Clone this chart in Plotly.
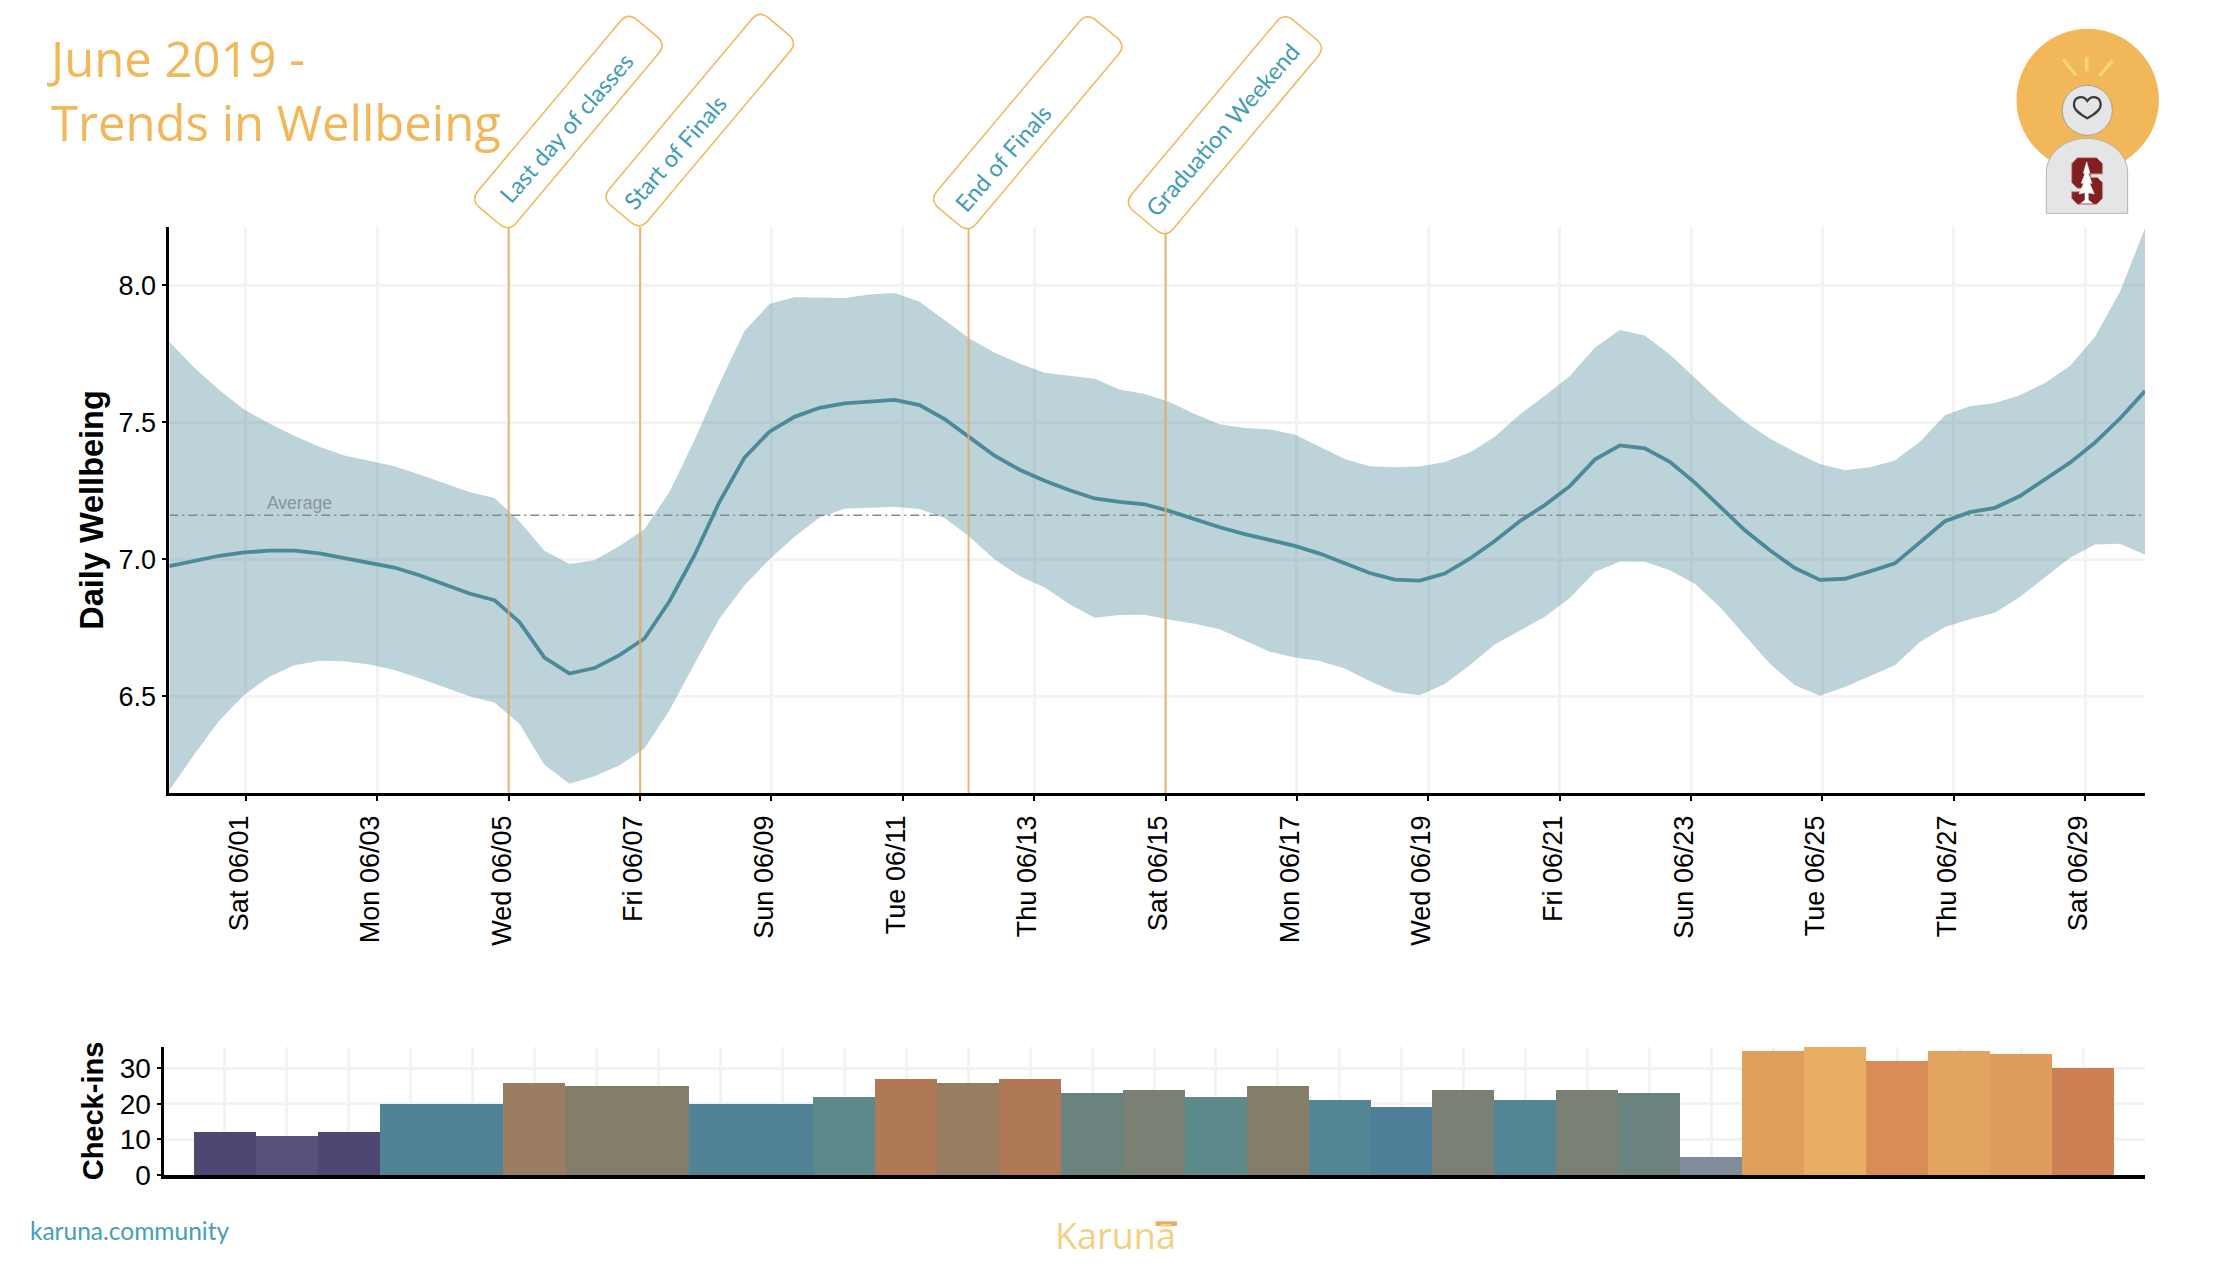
import math
import pandas as pd
import plotly.graph_objects as go

W, H = 2230, 1268

# ---------- data ----------
upper = [7.794,7.699,7.618,7.546,7.496,7.451,7.411,7.379,7.360,7.340,
         7.310,7.277,7.246,7.224,7.139,7.031,6.983,6.997,7.049,7.110,
         7.246,7.435,7.642,7.833,7.932,7.957,7.955,7.954,7.967,7.972,
         7.940,7.873,7.806,7.754,7.715,7.681,7.671,7.659,7.620,7.603,
         7.574,7.530,7.493,7.479,7.474,7.456,7.411,7.366,7.340,7.336,
         7.339,7.355,7.390,7.447,7.529,7.597,7.669,7.772,7.837,7.817,
         7.748,7.664,7.577,7.502,7.441,7.392,7.348,7.325,7.336,7.361,
         7.429,7.526,7.559,7.571,7.599,7.644,7.706,7.812,7.977,8.208]
mean = [6.975,6.994,7.013,7.025,7.032,7.032,7.022,7.004,6.988,6.970,
        6.942,6.909,6.875,6.851,6.771,6.641,6.583,6.603,6.650,6.711,
        6.847,7.015,7.210,7.371,7.466,7.520,7.553,7.569,7.576,7.582,
        7.563,7.512,7.445,7.378,7.327,7.287,7.252,7.222,7.210,7.201,
        7.176,7.146,7.117,7.092,7.070,7.049,7.021,6.985,6.950,6.926,
        6.922,6.948,7.002,7.067,7.139,7.198,7.267,7.364,7.416,7.405,
        7.356,7.280,7.195,7.106,7.033,6.968,6.925,6.929,6.956,6.985,
        7.062,7.139,7.172,7.188,7.231,7.291,7.353,7.426,7.514,7.614]
lower = [6.157,6.288,6.412,6.506,6.571,6.613,6.630,6.628,6.616,6.596,
         6.566,6.532,6.500,6.477,6.400,6.250,6.181,6.208,6.248,6.309,
         6.449,6.619,6.784,6.905,7.000,7.082,7.153,7.185,7.189,7.192,
         7.184,7.151,7.082,6.999,6.939,6.897,6.836,6.787,6.797,6.798,
         6.779,6.765,6.745,6.704,6.663,6.642,6.629,6.601,6.556,6.516,
         6.504,6.545,6.613,6.689,6.741,6.790,6.859,6.954,6.992,6.991,
         6.960,6.911,6.826,6.722,6.619,6.540,6.502,6.534,6.574,6.613,
         6.698,6.753,6.781,6.805,6.862,6.935,7.006,7.054,7.057,7.017]
average = 7.161
series_start = "2019-05-30 19:59"
series_end = "2019-06-29 21:50"
dates = pd.date_range(series_start, series_end, periods=len(mean))

checkins = [12,11,12,20,20,26,25,25,20,20,22,27,26,27,23,24,22,25,21,19,24,21,24,23,5,35,36,32,35,34,30]
checkin_dates = pd.date_range("2019-05-31", periods=len(checkins), freq="D")
checkin_colors = ["#4F4673","#57507A","#4F4673","#528395","#528395","#9B7D62","#847D6A","#847D6A",
                  "#528395","#528395","#5C8A8B","#AF7958","#997D63","#AF7958","#6A837E","#7A8073",
                  "#5C8A8B","#847D6A","#538594","#4E7E98","#7A8073","#538594","#7A8073","#6A837E",
                  "#7F8D9B","#E0A05C","#E8AE63","#D88C56","#E2A45E","#DF9C5C","#CD8053"]

events = ["Last day of classes", "Start of Finals", "End of Finals", "Graduation Weekend"]
event_dates = ["2019-06-05", "2019-06-07", "2019-06-12", "2019-06-15"]

# ---------- layout helpers (pixel geometry of the page) ----------
px = lambda v: v / W
py = lambda v: 1 - v / H
ORANGE = "#F2B758"
TEAL = "#3F9DB4"

def path_px(points, close=True):
    s = "M%.5f,%.5f " % (px(points[0][0]), py(points[0][1]))
    s += " ".join("L%.5f,%.5f" % (px(a), py(b)) for a, b in points[1:])
    return s + (" Z" if close else "")

def box_path(length, width, r=12, angle=50):
    """Rounded tag rising from its bottom corner, in pixel offsets (y up)."""
    t = math.radians(angle)
    u = (math.cos(t), math.sin(t))
    v = (-math.sin(t), math.cos(t))
    pt = lambda a, b: (a * u[0] + b * v[0], a * u[1] + b * v[1] - 4)
    segs = [((r, 0), (length - r, 0), (length, 0), (length, r)),
            (None, (length, width - r), (length, width), (length - r, width)),
            (None, (r, width), (0, width), (0, width - r)),
            (None, (0, r), (0, 0), (r, 0))]
    s = "M%.1f,%.1f" % pt(*segs[0][0])
    for _, l, c, e in segs:
        s += " L%.1f,%.1f Q%.1f,%.1f %.1f,%.1f" % (pt(*l) + pt(*c) + pt(*e))
    return s + " Z"

X_L, X_R, Y_T, Y_B = 169.3, 2145, 227, 793
X2_L, Y2_T, Y2_B = 164.3, 1047, 1175

fig = go.Figure()
fig.add_trace(go.Scatter(x=dates, y=upper, mode="lines", line=dict(width=0), hoverinfo="skip", showlegend=False))
fig.add_trace(go.Scatter(x=dates, y=lower, mode="lines", line=dict(width=0), fill="tonexty",
                         fillcolor="rgba(75,137,155,0.378)", hoverinfo="skip", showlegend=False))
fig.add_trace(go.Scatter(x=[dates[0], dates[-1]], y=[average, average], mode="lines",
                         line=dict(color="#7F8C91", width=1.6, dash="9px,4px,2px,4px"), showlegend=False))
fig.add_trace(go.Scatter(x=dates, y=mean, mode="lines", line=dict(color="#4C8A9A", width=3.8), showlegend=False))
fig.add_trace(go.Bar(x=checkin_dates, y=checkins, marker=dict(color=checkin_colors, line=dict(width=0)),
                     xaxis="x2", yaxis="y2", width=86400000, showlegend=False))

grid = "#F3F3F3"
tickfont = dict(family="Liberation Sans", size=27, color="#000000")
fig.update_layout(
    width=W, height=H, margin=dict(l=0, r=0, t=0, b=0, autoexpand=False), autosize=False,
    paper_bgcolor="white", plot_bgcolor="white", showlegend=False, bargap=0,
    xaxis=dict(domain=[px(X_L), px(X_R)], range=[series_start, series_end], type="date",
               tick0="2019-06-01", dtick=2 * 86400000, tickformat="%a %m/%d", tickangle=-90,
               tickfont=tickfont, ticks="outside", ticklen=5, tickwidth=2, tickcolor="black",
               showline=True, linecolor="black", linewidth=2.5, showgrid=True, gridcolor=grid, gridwidth=2.5,
               zeroline=False, anchor="y", ticklabelshift=-7, ticklabelstandoff=4),
    yaxis=dict(domain=[py(Y_B), py(Y_T)], range=[6.147, 8.213], tickvals=[6.5, 7, 7.5, 8],
               tickformat=".1f", tickfont=tickfont, ticks="outside", ticklen=5, tickwidth=2, tickcolor="black",
               showline=True, linecolor="black", linewidth=2.5, showgrid=True, gridcolor=grid, gridwidth=2.5,
               zeroline=False, anchor="x",
               title=dict(text="Daily Wellbeing", font=dict(family="Liberation Sans", size=32.5, color="black", weight=700), standoff=6)),
    xaxis2=dict(domain=[px(X2_L), px(X_R)], range=["2019-05-30 00:29", "2019-07-01 00:00"], type="date",
                tick0="2019-05-31", dtick=86400000, showticklabels=False, ticks="",
                showline=True, linecolor="black", linewidth=3.5, showgrid=True, gridcolor=grid, gridwidth=2.5,
                zeroline=False, anchor="y2"),
    yaxis2=dict(domain=[py(Y2_B), py(Y2_T)], range=[0, 36], tickvals=[0, 10, 20, 30],
                tickfont=dict(family="Liberation Sans", size=28, color="#000000"), ticks="outside", ticklen=5,
                tickwidth=2, tickcolor="black", showline=True, linecolor="black", linewidth=2.5,
                showgrid=True, gridcolor=grid, gridwidth=3, zeroline=False, anchor="x2",
                title=dict(text="Check-ins", font=dict(family="Liberation Sans", size=29, color="black", weight=700), standoff=8)),
)

shapes = []
event_tops = [227, 227, 229, 234]
box_bottoms = [228, 226, 229, 234]
box_sizes = [(245, 50), (245, 50), (245, 51), (249, 54)]
for d, top, bottom, size in zip(event_dates, event_tops, box_bottoms, box_sizes):
    shapes.append(dict(type="line", xref="x", yref="paper", x0=d, x1=d, y0=py(Y_B), y1=py(top),
                       line=dict(color="rgba(234,170,90,0.85)", width=2), layer="above"))
    shapes.append(dict(type="path", xref="x", yref="paper", xsizemode="pixel", ysizemode="pixel",
                       xanchor=d, yanchor=py(bottom), path=box_path(*size),
                       line=dict(color=ORANGE, width=1.5), fillcolor="rgba(255,255,255,0)"))

# ---------- badge in the top right corner ----------
zx = lambda v: 1960 + v / 3
zy = lambda v: v / 3
def circle(cx, cy, r, fill, line=None):
    return dict(type="circle", xref="paper", yref="paper", x0=px(cx - r), x1=px(cx + r), y0=py(cy + r), y1=py(cy - r),
                fillcolor=fill, line=dict(color=line or fill, width=1))
shapes.append(circle(2087.7, 100, 70.7, ORANGE))
for a, b in [((310, 178), (348, 226)), ((380, 170), (380, 214)), ((457, 182), (419, 228))]:
    shapes.append(dict(type="line", xref="paper", yref="paper", x0=px(zx(a[0])), y0=py(zy(a[1])),
                       x1=px(zx(b[0])), y1=py(zy(b[1])), line=dict(color="#F5D27F", width=3.5)))
shapes.append(circle(2087.3, 110.3, 25, "#E4E5E7", "#A9A28F"))
hp = [(382,303),(370,285),(342,288),(342,315),(342,332),(365,345),(382,355),(399,345),(422,332),(422,315),(422,288),(394,285),(382,303)]
hp = [(px(zx(a)), py(zy(b))) for a, b in hp]
heart = "M%.5f,%.5f " % hp[0] + " ".join("C%.5f,%.5f %.5f,%.5f %.5f,%.5f" % (hp[i] + hp[i+1] + hp[i+2]) for i in range(1, 12, 3)) + " Z"
shapes.append(dict(type="path", xref="paper", yref="paper", path=heart, line=dict(color="#3A3A3A", width=2.2)))
ap = [(259,640),(259,520),(259,455),(320,415),(381,415),(442,415),(503,455),(503,520),(503,640)]
ap = [(px(zx(a)), py(zy(b))) for a, b in ap]
arch = ("M%.5f,%.5f L%.5f,%.5f " % (ap[0] + ap[1]) + "C%.5f,%.5f %.5f,%.5f %.5f,%.5f " % (ap[2] + ap[3] + ap[4])
        + "C%.5f,%.5f %.5f,%.5f %.5f,%.5f " % (ap[5] + ap[6] + ap[7]) + "L%.5f,%.5f Z" % ap[8])
shapes.append(dict(type="path", xref="paper", yref="paper", path=arch, fillcolor="#E4E5E7", line=dict(color="#B5B3AB", width=1)))
s_pts = [(352,473),(410,473),(428,491),(428,522),(392,522),(392,532),(412,532),(428,548),(428,595),(410,613),
         (352,613),(335,595),(335,575),(370,575),(370,565),(352,565),(335,548),(335,491)]
shapes.append(dict(type="path", xref="paper", yref="paper", path=path_px([(zx(a), zy(b)) for a, b in s_pts]),
                   fillcolor="#821F1F", line=dict(color="#C99A9A", width=1)))
tree = [(380,485),(390,520),(385,520),(396,550),(389,550),(403,582),(385,578),(385,600),(398,610),(362,610),(375,600),
        (375,578),(357,582),(371,550),(364,550),(375,520),(370,520)]
shapes.append(dict(type="path", xref="paper", yref="paper", path=path_px([(zx(a), zy(b)) for a, b in tree]),
                   fillcolor="white", line=dict(color="white", width=0.5)))
shapes.append(dict(type="rect", xref="paper", yref="paper", x0=px(1155.5), x1=px(1177), y0=py(1226), y1=py(1221.3),
                   fillcolor="#EFAD63", line=dict(width=0)))
fig.update_layout(shapes=shapes)

# ---------- text ----------
def text(s, x, y, size, color, family="Lato", xanchor="left", angle=0):
    return dict(text=s, xref="paper", yref="paper", x=px(x), y=py(y), showarrow=False, xanchor=xanchor, yanchor="middle",
                align="left", textangle=angle, font=dict(family=family, size=size, color=color), borderpad=0, borderwidth=0)

label_centers = [(566, 128), (675, 152), (1003, 158), (1222, 130)]
ann = [text("June 2019 -<br>Trends in Wellbeing", 47, 90, 49, ORANGE, family="Open Sans")]
for lab, (cx, cy) in zip(events, label_centers):
    ann.append(text(lab, cx, cy, 23.5, TEAL, xanchor="center", angle=-49))
ann.append(dict(text="Average", x="2019-06-01 19:44", y=7.206, xref="x", yref="y", showarrow=False, xanchor="center",
                yanchor="middle", font=dict(family="Liberation Sans", size=17.5, color="#8A9499")))
ann.append(text("karuna.community", 30, 1230, 24.5, "#45A0B5"))
ann.append(text("Karunā", 1115, 1235, 36, "#F3D17F", family="Open Sans", xanchor="center"))
fig.update_layout(annotations=ann)

fig.write_html("out.html", config={"displayModeBar": False}, post_script="document.body.style.margin='0';")
